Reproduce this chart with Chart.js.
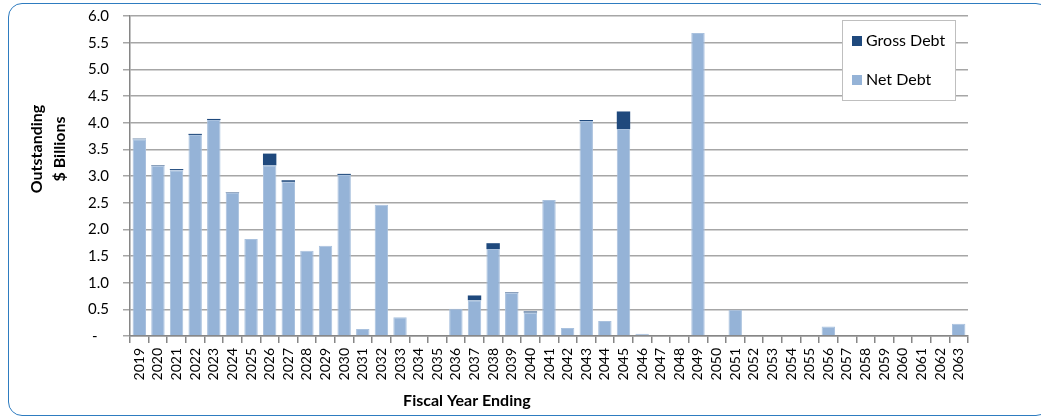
<!DOCTYPE html>
<html>
<head>
<meta charset="utf-8">
<script src="https://cdn.jsdelivr.net/npm/chart.js@4.4.1/dist/chart.umd.min.js"></script>
<style>
  html, body { margin: 0; padding: 0; background: #fff; overflow: hidden; }
  #frame {
    position: absolute; left: 8px; top: 3px; width: 1040px; height: 411px;
    border: 1.5px solid #2e7cc0; border-radius: 14px;
  }
  #wrap { position: absolute; left: 0; top: 0; width: 1041px; height: 420px; }
</style>
</head>
<body>
<div id="frame"></div>
<div id="wrap"><canvas id="debtChart"></canvas></div>
<script>
// fiscal years shown on the x axis
const years = [
  '2019', '2020', '2021', '2022', '2023', '2024', '2025', '2026', '2027', '2028',
  '2029', '2030', '2031', '2032', '2033', '2034', '2035', '2036', '2037', '2038',
  '2039', '2040', '2041', '2042', '2043', '2044', '2045', '2046', '2047', '2048',
  '2049', '2050', '2051', '2052', '2053', '2054', '2055', '2056', '2057', '2058',
  '2059', '2060', '2061', '2062', '2063'
];

// $ billions outstanding, net of reserves
const netDebt = [
  3.69, 3.19, 3.11, 3.77, 4.05, 2.68, 1.82, 3.20, 2.89, 1.60,
  1.69, 3.02, 0.13, 2.46, 0.35, 0, 0, 0.51, 0.67, 1.63,
  0.81, 0.44, 2.55, 0.15, 4.03, 0.28, 3.88, 0.04, 0, 0,
  5.68, 0, 0.49, 0, 0, 0, 0, 0.18, 0, 0,
  0, 0, 0, 0, 0.23
];

// $ billions outstanding, gross
const grossDebt = [
  3.70, 3.20, 3.13, 3.79, 4.07, 2.69, 1.82, 3.42, 2.92, 1.60,
  1.69, 3.04, 0.13, 2.46, 0.35, 0, 0, 0.51, 0.76, 1.74,
  0.82, 0.46, 2.55, 0.15, 4.05, 0.28, 4.21, 0.04, 0, 0,
  5.68, 0, 0.49, 0, 0, 0, 0, 0.18, 0, 0,
  0, 0, 0, 0, 0.23
];

const yTicks = [0, 0.5, 1.0, 1.5, 2.0, 2.5, 3.0, 3.5, 4.0, 4.5, 5.0, 5.5, 6.0];

// gross bar is drawn as the part stacked above net
const grossPart = grossDebt.map((g, i) => Math.max(0, +(g - netDebt[i]).toFixed(3)));

const NET_COLOR = '#95b3d7';
const GROSS_COLOR = '#1f497d';
const GRID = '#a6a6a6';
const AXIS = '#868686';
const FONT = 'Lato, "Open Sans", sans-serif';

// axis titles + boxed legend inside the plot, Excel style
const decorations = {
  id: 'decorations',
  afterDraw(chart) {
    const { ctx, chartArea: a } = chart;
    ctx.save();
    ctx.fillStyle = '#000';
    ctx.font = 'bold 16px ' + FONT;
    ctx.textAlign = 'center';
    ctx.textBaseline = 'middle';
    ctx.fillText('Fiscal Year Ending', a.left + (a.right - a.left) * 0.402, 401);

    ctx.translate(48, a.top + 133);
    ctx.rotate(-Math.PI / 2);
    ctx.fillText('Outstanding', 0, -11);
    ctx.fillText('$ Billions', 0, 12);
    ctx.restore();

    // legend box
    const bx = a.right - 126, by = a.top + 4, bw = 113, bh = 80;
    ctx.save();
    ctx.fillStyle = '#fff';
    ctx.fillRect(bx, by, bw, bh);
    ctx.strokeStyle = '#bfbfbf';
    ctx.lineWidth = 1;
    ctx.strokeRect(bx + 0.5, by + 0.5, bw, bh);
    const items = [
      { label: chart.data.datasets[1].label, color: GROSS_COLOR, y: by + 21 },
      { label: chart.data.datasets[0].label, color: NET_COLOR, y: by + 60 }
    ];
    ctx.font = '16px ' + FONT;
    ctx.textAlign = 'left';
    ctx.textBaseline = 'middle';
    items.forEach(it => {
      ctx.fillStyle = it.color;
      ctx.fillRect(bx + 10, it.y - 5, 10, 10);
      ctx.fillStyle = '#000';
      ctx.fillText(it.label, bx + 24, it.y);
    });
    ctx.restore();
  }
};

const ctx = document.getElementById('debtChart').getContext('2d');
new Chart(ctx, {
  type: 'bar',
  data: {
    labels: years,
    datasets: [
      {
        label: 'Net Debt',
        data: netDebt,
        backgroundColor: NET_COLOR,
        borderColor: '#a9c1de',
        borderWidth: 1,
        barPercentage: 0.72,
        categoryPercentage: 1
      },
      {
        label: 'Gross Debt',
        data: grossPart,
        backgroundColor: GROSS_COLOR,
        borderWidth: 0,
        barPercentage: 0.72,
        categoryPercentage: 1
      }
    ]
  },
  options: {
    responsive: true,
    maintainAspectRatio: false,
    animation: false,
    layout: { padding: { left: 0, right: 73, top: 16, bottom: 0 } },
    scales: {
      x: {
        stacked: true,
        afterFit: (s) => { s.height = 84; s.paddingLeft = 0; s.paddingRight = 0; },
        border: { color: AXIS, width: 1.5 },
        grid: { offset: true, drawOnChartArea: false, drawTicks: true, tickLength: 7, color: AXIS, lineWidth: 1.5 },
        ticks: {
          autoSkip: false, maxRotation: 90, minRotation: 90, padding: 5,
          color: '#000', font: { family: FONT, size: 14 }
        }
      },
      y: {
        stacked: true,
        min: 0,
        max: 6,
        afterFit: (s) => { s.width = 130; s.paddingTop = 0; s.paddingBottom = 0; },
        afterBuildTicks: (s) => { s.ticks = yTicks.map(v => ({ value: v })); },
        border: { color: AXIS, width: 1.5 },
        grid: { color: GRID, lineWidth: 1.5, tickLength: 7 },
        ticks: {
          padding: 14,
          color: '#000',
          font: { family: FONT, size: 15 },
          callback: (v) => v === 0 ? '-   ' : v.toFixed(1)
        }
      }
    },
    plugins: {
      legend: { display: false },
      tooltip: { enabled: false }
    }
  },
  plugins: [decorations]
});
</script>
</body>
</html>
